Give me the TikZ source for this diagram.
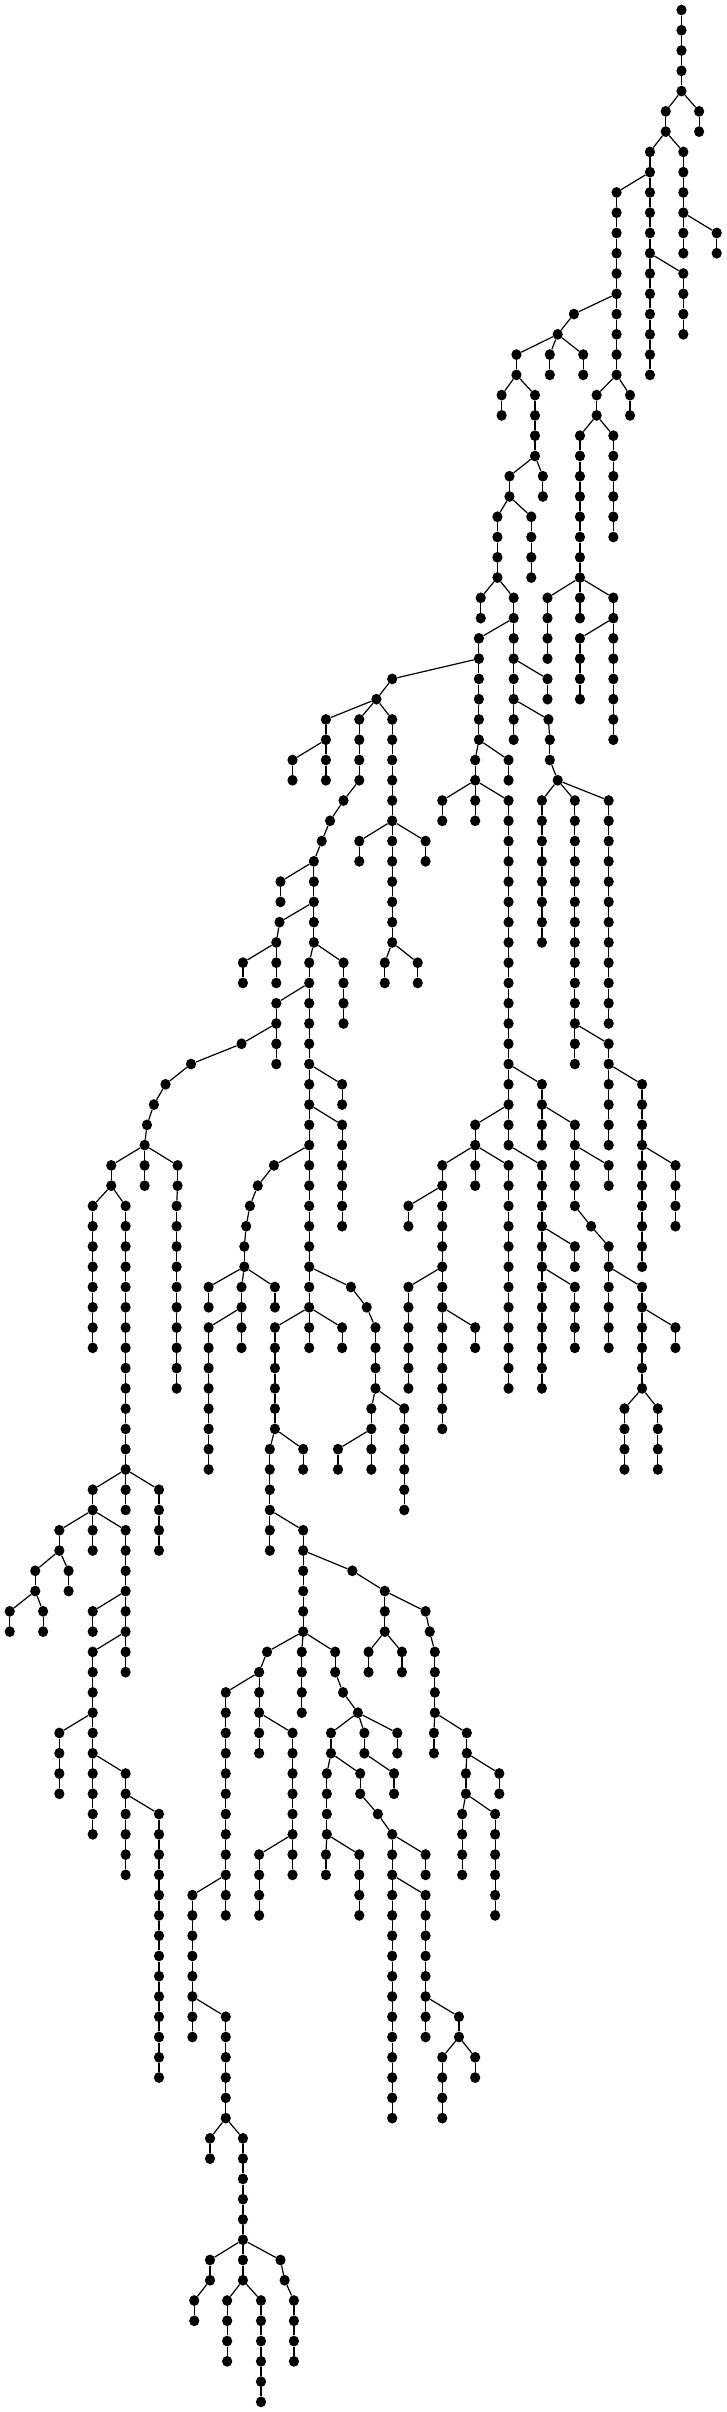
\documentclass[tikz,border=0pt]{standalone}
\usetikzlibrary{shapes.geometric}
\tikzset{
  tnode/.style={ellipse, fill=black, draw=none, minimum width=10.2pt, minimum height=10.8pt, inner sep=0pt},
  link/.style={line width=1.2pt, black}
}
\newcommand\vchain[3]{%
  \foreach \l in {#2,...,#3}{%
    \node[tnode] (n#1-\l) at ({#1*0.4636pt},{-10pt-\l*20.27pt}) {};
    \ifnum\l>#2\relax
      \pgfmathtruncatemacro\lp{\l-1}%
      \draw[link] (n#1-\lp) -- (n#1-\l);
    \fi
  }}
\begin{document}
\begin{tikzpicture}
\fill[white] (0pt,0pt) rectangle (727pt,-2412pt);
\useasboundingbox (0pt,0pt) rectangle (727pt,-2412pt);
\vchain{1470}{0}{4}
\vchain{1436}{5}{6}
\vchain{1508}{5}{6}
\vchain{1402}{7}{18}
\vchain{1474}{7}{12}
\vchain{1546}{11}{12}
\vchain{1474}{13}{16}
\vchain{1330}{9}{18}
\vchain{1238}{15}{15}
\vchain{1203}{16}{16}
\vchain{1114}{17}{18}
\vchain{1186}{17}{18}
\vchain{1258}{17}{18}
\vchain{1082}{19}{20}
\vchain{1154}{19}{22}
\vchain{1171}{23}{24}
\vchain{1099}{23}{24}
\vchain{1146}{25}{28}
\vchain{1073}{25}{28}
\vchain{1287}{19}{20}
\vchain{1359}{19}{20}
\vchain{1323}{21}{26}
\vchain{1251}{21}{30}
\vchain{1037}{29}{30}
\vchain{1108}{29}{36}
\vchain{1033}{31}{36}
\vchain{846}{33}{33}
\vchain{812}{34}{34}
\vchain{703}{35}{38}
\vchain{631}{37}{38}
\vchain{775}{35}{38}
\vchain{741}{39}{39}
\vchain{712}{40}{40}
\vchain{694}{41}{41}
\vchain{677}{42}{46}
\vchain{605}{43}{44}
\vchain{603}{45}{45}
\vchain{596}{46}{48}
\vchain{524}{47}{48}
\vchain{667}{47}{66}
\vchain{741}{47}{50}
\vchain{596}{49}{52}
\vchain{521}{51}{51}
\vchain{412}{52}{52}
\vchain{357}{53}{53}
\vchain{332}{54}{54}
\vchain{317}{55}{55}
\vchain{312}{56}{58}
\vchain{240}{57}{58}
\vchain{200}{59}{66}
\vchain{271}{59}{74}
\vchain{271}{75}{82}
\vchain{383}{57}{58}
\vchain{381}{59}{68}
\vchain{200}{73}{76}
\vchain{343}{73}{76}
\vchain{128}{75}{76}
\vchain{76}{77}{78}
\vchain{148}{77}{78}
\vchain{21}{79}{80}
\vchain{93}{79}{80}
\vchain{200}{79}{80}
\vchain{200}{81}{90}
\vchain{128}{85}{88}
\vchain{271}{87}{92}
\vchain{343}{89}{102}
\vchain{738}{53}{54}
\vchain{738}{55}{60}
\vchain{591}{57}{57}
\vchain{556}{58}{58}
\vchain{539}{59}{59}
\vchain{531}{60}{60}
\vchain{527}{61}{62}
\vchain{450}{63}{64}
\vchain{521}{63}{66}
\vchain{593}{63}{64}
\vchain{450}{65}{72}
\vchain{757}{63}{63}
\vchain{791}{64}{64}
\vchain{810}{65}{68}
\vchain{593}{65}{70}
\vchain{738}{65}{66}
\vchain{582}{71}{76}
\vchain{654}{71}{72}
\vchain{654}{75}{80}
\vchain{760}{77}{77}
\vchain{830}{78}{80}
\vchain{918}{79}{79}
\vchain{927}{80}{80}
\vchain{938}{81}{84}
\vchain{936}{85}{86}
\vchain{1007}{85}{86}
\vchain{1005}{87}{88}
\vchain{1077}{87}{88}
\vchain{997}{89}{92}
\vchain{1068}{89}{94}
\vchain{795}{81}{82}
\vchain{867}{81}{82}
\vchain{801}{69}{72}
\vchain{729}{71}{72}
\vchain{872}{69}{74}
\vchain{576}{81}{81}
\vchain{559}{82}{86}
\vchain{487}{83}{94}
\vchain{415}{93}{100}
\vchain{487}{99}{104}
\vchain{453}{105}{106}
\vchain{524}{105}{112}
\vchain{453}{111}{112}
\vchain{419}{113}{114}
\vchain{490}{113}{116}
\vchain{563}{113}{118}
\vchain{605}{111}{111}
\vchain{614}{112}{112}
\vchain{634}{113}{116}
\vchain{631}{85}{92}
\vchain{559}{91}{94}
\vchain{651}{81}{84}
\vchain{723}{81}{82}
\vchain{740}{83}{83}
\vchain{772}{84}{84}
\vchain{714}{85}{86}
\vchain{786}{85}{86}
\vchain{857}{85}{86}
\vchain{705}{87}{90}
\vchain{703}{91}{92}
\vchain{775}{91}{94}
\vchain{777}{87}{88}
\vchain{815}{89}{89}
\vchain{846}{90}{104}
\vchain{918}{91}{92}
\vchain{918}{93}{100}
\vchain{990}{99}{100}
\vchain{954}{101}{104}
\vchain{1025}{101}{102}
\vchain{850}{87}{88}
\vchain{1181}{29}{32}
\vchain{1251}{31}{34}
\vchain{1323}{29}{36}
\vchain{1181}{33}{34}
\vchain{1183}{35}{35}
\vchain{1186}{36}{37}
\vchain{1203}{38}{38}
\vchain{1169}{39}{46}
\vchain{1240}{39}{52}
\vchain{1313}{39}{50}
\vchain{1313}{51}{56}
\vchain{1385}{53}{62}
\vchain{1457}{57}{60}
\vchain{1097}{37}{38}
\vchain{1025}{37}{40}
\vchain{954}{39}{40}
\vchain{1097}{39}{56}
\vchain{1169}{53}{56}
\vchain{1240}{55}{59}
\vchain{1313}{57}{58}
\vchain{1275}{60}{60}
\vchain{1313}{61}{66}
\vchain{1385}{63}{68}
\vchain{1457}{65}{66}
\vchain{1347}{69}{72}
\vchain{1419}{69}{72}
\vchain{1025}{55}{58}
\vchain{954}{57}{70}
\vchain{881}{59}{60}
\vchain{881}{63}{68}
\vchain{1025}{65}{66}
\vchain{1097}{57}{68}
\vchain{1169}{57}{68}
\vchain{1240}{61}{62}
\vchain{1240}{63}{66}
\vchain{846}{35}{46}
\vchain{775}{41}{42}
\vchain{918}{41}{42}
\vchain{830}{47}{48}
\vchain{901}{47}{48}
\foreach \a/\b/\c/\d in {
1470/4/1436/5, 1470/4/1508/5, 1436/6/1402/7, 1436/6/1474/7, 1474/10/1546/11,
1402/12/1474/13, 1402/8/1330/9, 1330/14/1238/15, 1238/15/1203/16, 1203/16/1114/17,
1203/16/1186/17, 1203/16/1258/17, 1114/18/1082/19, 1114/18/1154/19, 1154/22/1171/23,
1154/22/1099/23, 1099/24/1146/25, 1099/24/1073/25, 1330/18/1287/19, 1330/18/1359/19,
1287/20/1323/21, 1287/20/1251/21, 1073/28/1037/29, 1073/28/1108/29, 1108/30/1033/31,
1033/32/846/33, 846/33/812/34, 812/34/703/35, 703/36/631/37, 812/34/775/35,
775/38/741/39, 741/39/712/40, 712/40/694/41, 694/41/677/42, 677/42/605/43,
677/44/603/45, 603/45/596/46, 596/46/524/47, 677/46/667/47, 677/46/741/47,
667/48/596/49, 596/50/521/51, 521/51/412/52, 412/52/357/53, 357/53/332/54,
332/54/317/55, 317/55/312/56, 312/56/240/57, 240/58/200/59, 240/58/271/59,
200/74/271/75, 312/56/383/57, 383/58/381/59, 271/72/200/73, 271/72/343/73,
200/74/128/75, 128/76/76/77, 128/76/148/77, 76/78/21/79, 76/78/93/79,
271/78/200/79, 271/80/200/81, 200/84/128/85, 200/86/271/87, 271/88/343/89,
667/52/738/53, 667/54/738/55, 667/56/591/57, 591/57/556/58, 556/58/539/59,
539/59/531/60, 531/60/527/61, 527/62/450/63, 527/62/521/63, 527/62/593/63,
521/64/450/65, 667/62/757/63, 757/63/791/64, 791/64/810/65, 667/64/593/65,
667/64/738/65, 593/70/582/71, 593/70/654/71, 582/74/654/75, 654/76/760/77,
760/77/830/78, 830/78/918/79, 918/79/927/80, 927/80/938/81, 938/84/936/85,
938/84/1007/85, 1007/86/1005/87, 1007/86/1077/87, 1005/88/997/89, 1005/88/1068/89,
830/80/795/81, 830/80/867/81, 810/68/801/69, 801/70/729/71, 810/68/872/69,
654/80/576/81, 576/81/559/82, 559/82/487/83, 487/92/415/93, 415/98/487/99,
487/104/453/105, 487/104/524/105, 524/110/453/111, 453/112/419/113, 524/112/490/113,
524/112/563/113, 524/110/605/111, 605/111/614/112, 614/112/634/113, 559/84/631/85,
631/90/559/91, 654/80/651/81, 654/80/723/81, 723/82/740/83, 740/83/772/84,
772/84/714/85, 772/84/786/85, 772/84/857/85, 714/86/705/87, 705/90/703/91,
705/90/775/91, 714/86/777/87, 777/88/815/89, 815/89/846/90, 846/90/918/91,
846/92/918/93, 918/98/990/99, 990/100/954/101, 990/100/1025/101, 786/86/850/87,
1251/28/1181/29, 1323/30/1251/31, 1251/28/1323/29, 1108/32/1181/33, 1108/34/1183/35,
1183/35/1186/36, 1186/37/1203/38, 1203/38/1169/39, 1203/38/1240/39, 1203/38/1313/39,
1240/50/1313/51, 1313/52/1385/53, 1385/56/1457/57, 1033/36/1097/37, 1033/36/1025/37,
1025/38/954/39, 1025/38/1097/39, 1097/52/1169/53, 1169/54/1240/55, 1240/56/1313/57,
1240/59/1275/60, 1275/60/1313/61, 1313/62/1385/63, 1385/64/1457/65, 1385/68/1347/69,
1385/68/1419/69, 1097/54/1025/55, 1025/56/954/57, 954/58/881/59, 954/62/881/63,
954/64/1025/65, 1025/56/1097/57, 1097/56/1169/57, 1169/60/1240/61, 1169/62/1240/63,
812/34/846/35, 846/40/775/41, 846/40/918/41, 846/46/830/47, 846/46/901/47}
  {\draw[link] (n\a-\b) -- (n\c-\d);}
\end{tikzpicture}
\end{document}
